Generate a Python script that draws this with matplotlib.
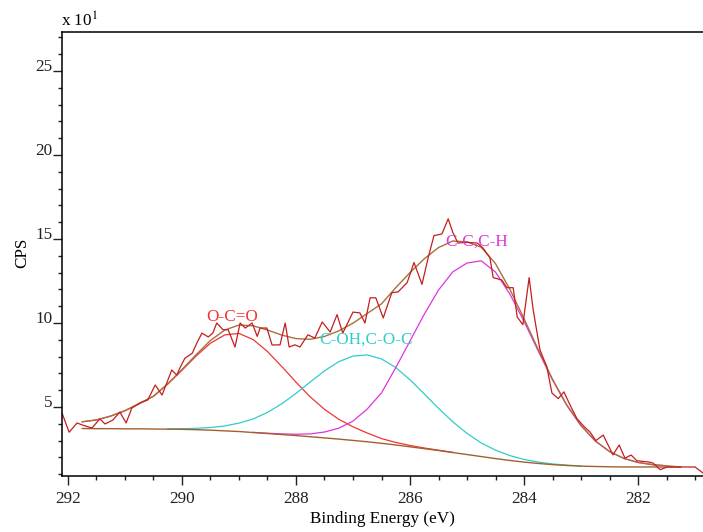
#!/usr/bin/env python3
"""XPS C1s spectrum with peak fit components."""
import numpy as np
import matplotlib.pyplot as plt

plt.rcParams['font.family'] = ['Liberation Serif', 'DejaVu Serif']
plt.rcParams['mathtext.fontset'] = 'stix'

# raw spectrum (binding energy eV, counts x10)
raw_be = [292.10, 291.98, 291.84, 291.75, 291.58, 291.44, 291.35, 291.21, 291.09, 290.98,
          290.88, 290.74, 290.60, 290.47, 290.35, 290.26, 290.18, 290.09, 290.04, 289.95,
          289.82, 289.74, 289.65, 289.54, 289.46, 289.39, 289.28, 289.19, 289.07, 288.98,
          288.89, 288.77, 288.68, 288.63, 288.51, 288.42, 288.28, 288.19, 288.12, 288.02,
          287.93, 287.79, 287.67, 287.54, 287.40, 287.28, 287.18, 287.00, 286.88, 286.79,
          286.70, 286.60, 286.47, 286.32, 286.21, 286.05, 285.93, 285.79, 285.68, 285.58,
          285.44, 285.33, 285.25, 285.16, 285.00, 284.82, 284.72, 284.60, 284.54, 284.39,
          284.30, 284.19, 284.12, 284.02, 283.91, 283.84, 283.77, 283.72, 283.60, 283.51,
          283.40, 283.30, 283.19, 283.07, 282.95, 282.84, 282.74, 282.61, 282.44, 282.33,
          282.23, 282.12, 282.02, 281.82, 281.74, 281.61, 281.49, 281.26, 281.00, 280.86]
raw_cps = [4.60, 3.50, 4.05, 3.93, 3.75, 4.29, 3.99, 4.23, 4.70, 4.05,
           4.94, 5.24, 5.42, 6.31, 5.71, 6.49, 7.20, 6.90, 7.30, 7.90,
           8.20, 8.80, 9.40, 9.17, 9.40, 10.00, 9.60, 9.60, 8.57, 10.00,
           9.70, 10.00, 9.20, 9.70, 9.70, 8.69, 8.70, 10.00, 8.57, 8.70,
           8.57, 9.30, 9.10, 10.06, 9.46, 10.50, 9.40, 10.65, 10.60, 10.00,
           11.50, 11.50, 10.30, 11.80, 11.85, 12.40, 13.60, 12.30, 13.90, 15.20,
           15.30, 16.20, 15.40, 14.76, 14.80, 14.76, 14.46, 13.90, 12.70, 12.56,
           12.10, 12.10, 10.36, 9.90, 12.70, 10.80, 9.40, 8.40, 7.40, 5.83,
           5.50, 5.90, 5.10, 4.30, 3.85, 3.50, 3.00, 3.33, 2.15, 2.74,
           1.96, 2.14, 1.80, 1.73, 1.67, 1.27, 1.43, 1.43, 1.43, 1.07]

# fit grid
fit_be = [291.75, 291.5, 291.25, 291.0, 290.75, 290.5, 290.25, 290.0, 289.75, 289.5,
          289.25, 289.0, 288.75, 288.5, 288.25, 288.0, 287.75, 287.5, 287.25, 287.0,
          286.75, 286.5, 286.25, 286.0, 285.75, 285.5, 285.25, 285.0, 284.75, 284.5,
          284.25, 284.0, 283.75, 283.5, 283.25, 283.0, 282.75, 282.5, 282.25, 282.0,
          281.75, 281.5, 281.25]
background = [3.72, 3.71, 3.71, 3.70, 3.70, 3.69, 3.68, 3.67, 3.65, 3.62,
              3.58, 3.54, 3.48, 3.42, 3.36, 3.30, 3.23, 3.16, 3.09, 3.01,
              2.93, 2.84, 2.74, 2.63, 2.52, 2.41, 2.29, 2.17, 2.05, 1.93,
              1.82, 1.72, 1.64, 1.57, 1.52, 1.48, 1.46, 1.44, 1.43, 1.43,
              1.43, 1.43, 1.43]
# component heights above background
occo = [0.40, 0.52, 0.75, 1.08, 1.50, 1.95, 2.68, 3.52, 4.39, 5.18,
        5.71, 5.84, 5.53, 4.88, 4.05, 3.18, 2.37, 1.70, 1.18, 0.81,
        0.52, 0.28, 0.15, 0.08, 0.04, 0.02, 0.01, 0, 0, 0,
        0, 0, 0, 0, 0, 0, 0, 0, 0, 0,
        0, 0, 0]
coh = [0, 0, 0, 0, 0, 0, 0.02, 0.04, 0.08, 0.16,
       0.29, 0.50, 0.81, 1.26, 1.83, 2.51, 3.26, 3.99, 4.61, 5.02,
       5.17, 5.02, 4.61, 3.99, 3.26, 2.51, 1.83, 1.26, 0.81, 0.50,
       0.29, 0.16, 0.08, 0.04, 0.02, 0.01, 0, 0, 0, 0,
       0, 0, 0]
cc = [0, 0, 0, 0, 0, 0, 0, 0, 0, 0,
      0, 0, 0.01, 0.02, 0.04, 0.08, 0.17, 0.35, 0.65, 1.15,
      1.95, 3.00, 4.60, 6.30, 8.00, 9.55, 10.75, 11.40, 11.65, 11.10,
      9.91, 8.38, 6.69, 5.04, 3.58, 2.41, 1.52, 0.91, 0.51, 0.27,
      0.14, 0.07, 0]

labels = ["O-C=O", "C-OH,C-O-C", "C-C,C-H"]
label_pos = [(289.12, 10.36), (286.77, 8.99), (284.84, 14.82)]
colors = ["#f03535", "#30cccc", "#dd35dd"]

fs = 12.3
be = np.array(fit_be)
bg = np.array(background)

fig = plt.figure(figsize=(7.03, 5.32), dpi=100)
ax = fig.add_axes([62 / 703, 56 / 532, 641 / 703, 444 / 532])

for h, c in zip([occo, coh, cc], colors):
    h = np.array(h)
    ax.plot(be, np.where(h > 0, bg + h, np.nan), color=c, linewidth=0.9)
ax.plot(be, bg, color="#a2602e", linewidth=1.0)
envelope = bg + np.array(occo) + np.array(coh) + np.array(cc)
ax.plot(be, envelope, color="#a8703e", linewidth=1.0)
ax.plot(raw_be, raw_cps, color="#c41e1e", linewidth=0.9)

for t, (x, y), c in zip(labels, label_pos, colors):
    ax.text(x, y, t, color=c, fontsize=fs, ha="center", va="center")

ax.set_xlim(292.105, 280.86)
ax.set_ylim(0.893, 27.32)
ax.set_xticks([292, 290, 288, 286, 284, 282])
ax.set_xticks(np.arange(281.0, 292.5, 0.5), minor=True)
ax.set_yticks([5, 10, 15, 20, 25])
ax.set_yticks(np.arange(1, 28, 1), minor=True)
ax.tick_params(which="major", length=6.5, width=1, labelsize=fs, colors="#222222")
ax.tick_params(which="minor", length=3, width=1, colors="#222222")
ax.tick_params(axis="x", pad=4)
ax.tick_params(axis="y", pad=0.5)
ax.spines["right"].set_visible(False)
for s in ["left", "top", "bottom"]:
    ax.spines[s].set_linewidth(1.1)
plt.setp(ax.get_yticklabels(), va="baseline")

ax.set_xlabel("Binding Energy (eV)", fontsize=fs, labelpad=3)
fig.text(22 / 703, 1 - 253 / 532, "CPS", rotation=90, fontsize=fs, ha="center", va="center")
fig.text(61 / 703, 1 - 27 / 532, r"x 10$^{1}$", fontsize=fs, ha="left", va="baseline")

plt.savefig("out.png", dpi=100)
print("saved out.png")
